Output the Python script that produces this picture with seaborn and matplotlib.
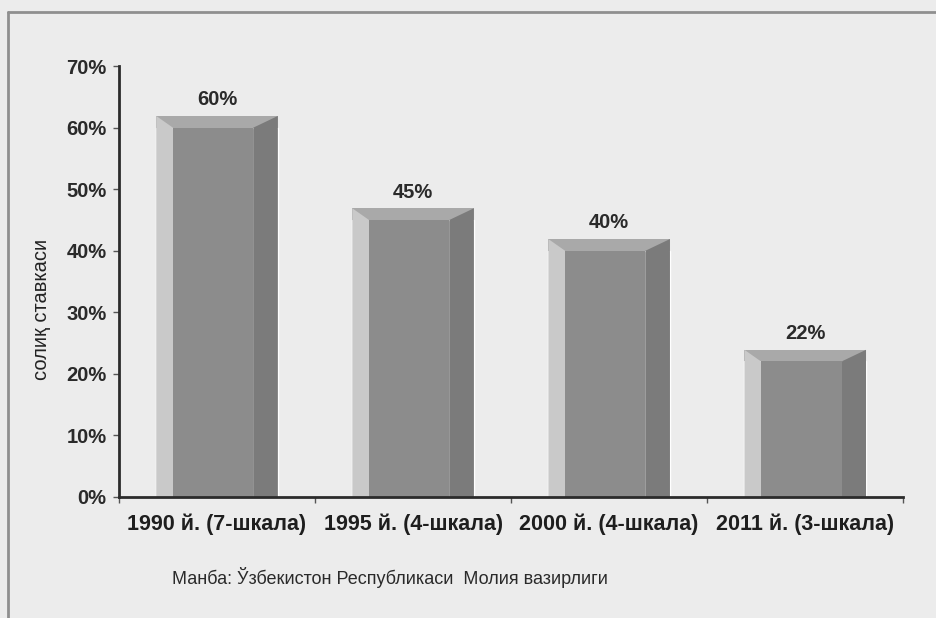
import seaborn as sns
import matplotlib.pyplot as plt
import pandas as pd
from matplotlib.patches import Polygon, Rectangle
from matplotlib.lines import Line2D
from matplotlib.ticker import FuncFormatter, FixedLocator


# ---------------- DATA ---------------- #

categories = [
    "1990 й. (7-шкала)",
    "1995 й. (4-шкала)",
    "2000 й. (4-шкала)",
    "2011 й. (3-шкала)",
]
rates = [60, 45, 40, 22]
value_labels = ["60%", "45%", "40%", "22%"]
y_ticks = [0, 10, 20, 30, 40, 50, 60, 70]

y_title = "солиқ ставкаси"
source_note = "Манба: Ўзбекистон Республикаси  Молия вазирлиги"

# bevel colours
LIGHT = "#c9c9c9"
FACE = "#8c8c8c"
DARK = "#7b7b7b"
TOP = "#a9a9a9"
BG = "#ececec"


# ---------------- PLOT ---------------- #

sns.set_style("white")
plt.rcParams["font.family"] = ["Liberation Sans", "DejaVu Sans"]

df = pd.DataFrame({"period": categories, "rate": rates})

fig = plt.figure(figsize=(9.37, 6.18), dpi=100)
fig.patch.set_facecolor(BG)
ax = fig.add_axes([0.127, 0.196, 0.837, 0.697])
ax.set_facecolor(BG)

sns.barplot(data=df, x="period", y="rate", color=LIGHT, width=0.62,
            saturation=1, ax=ax, zorder=2)

# bevel decoration built on each bar's geometry
dl, dr, dt = 0.085, 0.125, 1.9
for patch, lab in zip(ax.patches, value_labels):
    x0 = patch.get_x()
    w = patch.get_width()
    h = patch.get_height()
    x1 = x0 + w
    ax.add_patch(Polygon([(x0, h), (x1, h), (x1, h + dt), (x0, h + dt)],
                         closed=True, facecolor=TOP, edgecolor="none", zorder=2))
    ax.add_patch(Polygon([(x0, 0), (x0 + dl, 0), (x0 + dl, h), (x0, h + dt)],
                         closed=True, facecolor=LIGHT, edgecolor="none", zorder=3))
    ax.add_patch(Polygon([(x1 - dr, 0), (x1, 0), (x1, h + dt), (x1 - dr, h)],
                         closed=True, facecolor=DARK, edgecolor="none", zorder=3))
    ax.add_patch(Rectangle((x0 + dl, 0), w - dl - dr, h,
                           facecolor=FACE, edgecolor="none", zorder=3))
    ax.text(x0 + w / 2, h + dt + 1.1, lab, ha="center", va="bottom",
            fontsize=14.5, fontweight="bold", color="#2a2a2a")

ax.set_xlim(-0.5, 3.5)
ax.set_ylim(0, 70)
ax.set_yticks(y_ticks)
ax.yaxis.set_major_formatter(FuncFormatter(lambda v, p: f"{v:.0f}%"))

ax.set_xlabel("")
ax.set_ylabel(y_title, fontsize=14.5, color="#222222")
ax.yaxis.set_label_coords(-0.087, 0.435)

ax.tick_params(axis="y", left=True, length=4, width=1, color="#555555",
               labelsize=14.5, labelcolor="#2a2a2a", pad=5)
for t in ax.get_yticklabels():
    t.set_fontweight("bold")

ax.tick_params(axis="x", which="major", length=0, labelsize=15.5,
               labelcolor="#1e1e1e", pad=12)
for t in ax.get_xticklabels():
    t.set_fontweight("bold")
ax.xaxis.set_minor_locator(FixedLocator([-0.5, 0.5, 1.5, 2.5, 3.5]))
ax.tick_params(axis="x", which="minor", bottom=True, length=4, width=1,
               color="#555555")

sns.despine(ax=ax)
for side in ["left", "bottom"]:
    ax.spines[side].set_linewidth(2)
    ax.spines[side].set_color("#2b2b2b")
    ax.spines[side].set_zorder(5)

fig.text(0.416, 0.065, source_note, ha="center", va="center",
         fontsize=13, color="#2a2a2a")

# outer frame
fig.add_artist(Line2D([0.009, 0.009], [0.0, 0.981], transform=fig.transFigure,
                      color="#8f8f8f", linewidth=2))
fig.add_artist(Line2D([0.009, 1.0], [0.981, 0.981], transform=fig.transFigure,
                      color="#8f8f8f", linewidth=2))

fig.savefig("out.png", dpi=100, facecolor=BG)
